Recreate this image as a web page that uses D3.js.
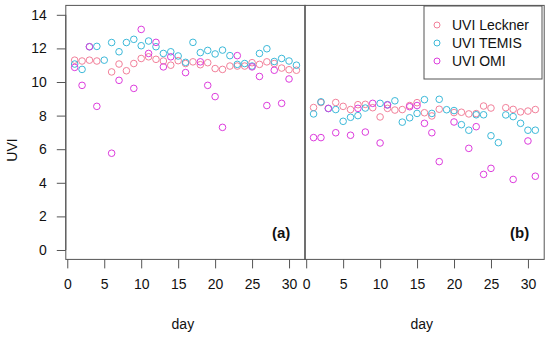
<!DOCTYPE html>
<html><head><meta charset="utf-8">
<script src="https://cdn.jsdelivr.net/npm/d3@7"></script>
<style>body{margin:0;background:#fff}text{font-family:"Liberation Sans",Arial,sans-serif}</style>
</head><body><svg id="c" width="550" height="338"></svg>
<script>
const days = d3.range(1, 32);
const xTicks = [0,5,10,15,20,25,30];
const yTicks = [0,2,4,6,8,10,12,14];
const seriesNames = ["UVI Leckner","UVI TEMIS","UVI OMI"];
const seriesColors = ["#F2809A","#3CB9D9","#DD3CDD"];
const panelLabels = ["(a)","(b)"];

// panel (a)
const aLeckner = [11.3,11.25,11.3,11.25,null,10.6,11.07,10.67,11.1,11.4,11.5,11.35,11.25,11.0,11.27,11.1,11.2,11.03,11.15,10.8,10.75,10.95,10.95,10.95,11.15,11.05,11.2,11.1,10.83,10.73,10.7];
const aTemis = [11.07,10.75,12.1,12.12,11.3,12.35,11.8,12.35,12.54,12.16,12.44,12.1,11.7,11.8,11.55,11.17,12.36,11.75,11.88,11.67,11.9,11.57,11.05,11.1,10.95,11.7,11.98,11.22,11.4,11.25,11.0];
const aOmi = [10.87,9.8,12.1,8.55,null,5.76,10.1,null,9.62,13.13,11.7,12.36,10.9,11.5,null,10.56,null,11.2,9.8,9.13,7.3,null,11.57,null,10.9,10.33,8.6,10.7,8.73,10.18,null];
// panel (b)
const bLeckner = [8.48,8.78,null,8.78,8.55,8.36,8.65,8.67,8.47,7.92,8.43,8.33,8.36,8.6,8.77,8.17,7.98,8.38,null,8.18,8.2,8.1,8.12,8.57,8.45,null,8.47,8.37,8.22,8.27,8.36];
const bTemis = [8.1,8.82,8.42,8.36,7.66,7.9,8.0,8.45,null,8.73,8.65,8.88,7.61,7.87,8.13,8.95,8.13,8.97,8.35,8.3,7.46,7.13,8.05,8.05,6.8,6.39,8.04,7.94,7.54,7.13,7.13];
const bOmi = [6.69,6.69,8.43,6.98,null,6.83,8.43,7.02,8.73,6.37,8.63,null,null,8.53,8.6,7.54,6.98,5.26,null,7.62,null,6.05,7.34,4.5,4.86,null,null,4.2,null,6.49,4.39];

const panels = [[aLeckner,aTemis,aOmi],[bLeckner,bTemis,bOmi]];

const svg = d3.select("#c");
const yTop = 5.4, yBottom = 259.4;
const y = d3.scaleLinear().domain([-0.56,14.56]).range([yBottom, yTop]);
const panelX = [[65.8,305.3],[304.7,544.2]];
const axisColor = "#555";

panels.forEach((series, p) => {
  const x = d3.scaleLinear().domain([-0.2,32.2]).range(panelX[p]);
  const g = svg.append("g");
  g.append("rect").attr("x", panelX[p][0]).attr("y", yTop)
    .attr("width", panelX[p][1]-panelX[p][0]).attr("height", yBottom-yTop)
    .attr("fill","none").attr("stroke", axisColor).attr("stroke-width",1);
  const xa = g.append("g").attr("transform", `translate(0,${yBottom})`)
    .call(d3.axisBottom(x).tickValues(xTicks).tickSizeInner(9).tickSizeOuter(0).tickPadding(11));
  xa.select(".domain").remove();
  xa.selectAll("line").attr("stroke", axisColor);
  xa.selectAll("text").attr("font-size", 14).attr("fill","#111");
  g.append("text").attr("x", (x(0)+x(31))/2 + 1).attr("y", 329)
    .attr("text-anchor","middle").attr("font-size",14).attr("fill","#111").text("day");
  series.forEach((vals, s) => {
    g.append("g").selectAll("circle")
      .data(days.map((d,i)=>({d, v: vals[i]})).filter(o => o.v != null))
      .join("circle")
      .attr("cx", o => x(o.d)).attr("cy", o => y(o.v)).attr("r", 3.3)
      .attr("fill","none").attr("stroke", seriesColors[s]).attr("stroke-width",1);
  });
  g.append("text").attr("x", panelX[p][1]-15).attr("y", 238)
    .attr("text-anchor","end").attr("font-size",15).attr("font-weight","bold")
    .attr("fill","#111").text(panelLabels[p]);
});

const ya = svg.append("g").attr("transform", `translate(${panelX[0][0]},0)`)
  .call(d3.axisLeft(y).tickValues(yTicks).tickSizeInner(9).tickSizeOuter(0).tickPadding(10));
ya.select(".domain").attr("d", `M0,${y(0)}V${y(14)}`).attr("stroke", axisColor);
ya.selectAll("line").attr("stroke", axisColor);
ya.selectAll("text").attr("font-size", 14).attr("fill","#111");
svg.append("text").attr("transform", "translate(17,150) rotate(-90)")
  .attr("text-anchor","middle").attr("font-size",14).attr("fill","#111").text("UVI");

const lg = svg.append("g");
lg.append("rect").attr("x",424).attr("y",6).attr("width",118).attr("height",73)
  .attr("fill","#fff").attr("stroke", axisColor).attr("stroke-width",1);
seriesNames.forEach((n,i) => {
  const yy = 25 + i*18;
  lg.append("circle").attr("cx",437).attr("cy",yy).attr("r",3).attr("fill","none")
    .attr("stroke", seriesColors[i]).attr("stroke-width",1);
  lg.append("text").attr("x",452).attr("y",yy+5).attr("font-size",14).attr("fill","#111").text(n);
});
</script></body></html>
